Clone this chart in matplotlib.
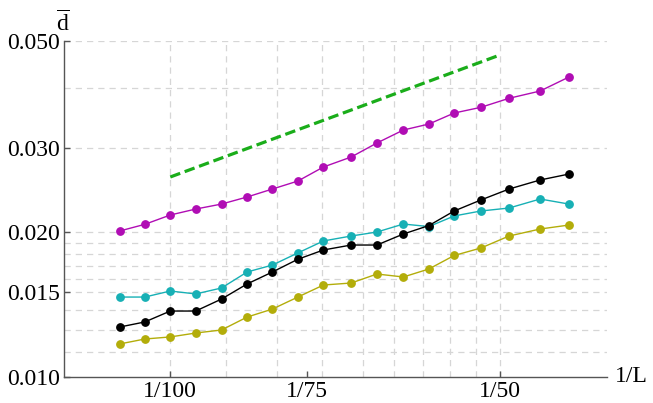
import numpy as np
import matplotlib
matplotlib.use("Agg")
import matplotlib.pyplot as plt
from matplotlib.ticker import NullLocator, FixedLocator

plt.rcParams['font.family'] = ['Liberation Serif', 'DejaVu Serif']
plt.rcParams['mathtext.fontset'] = 'custom'
plt.rcParams['mathtext.rm'] = 'Liberation Serif'

# system sizes L (x axis is 1/L)
L_values = [111.2, 105.5, 100, 94.8, 89.8, 85.1, 80.7, 76.5, 72.5,
            68.4, 64.8, 61.3, 58.1, 55.1, 52.1, 49.1, 46.0, 43.3]

d_magenta = [0.02011, 0.02076, 0.02171, 0.02234, 0.02288, 0.02367, 0.02459, 0.02555, 0.02733,
             0.02867, 0.03066, 0.03263, 0.03358, 0.03540, 0.03638, 0.03799, 0.03934, 0.04207]
d_cyan = [0.01465, 0.01465, 0.01508, 0.01487, 0.01530, 0.01652, 0.01708, 0.01810, 0.01917,
          0.01963, 0.02001, 0.02079, 0.02054, 0.02161, 0.02213, 0.02245, 0.02344, 0.02288]
d_black = [0.01269, 0.01300, 0.01370, 0.01370, 0.01451, 0.01560, 0.01652, 0.01756, 0.01836,
           0.01880, 0.01880, 0.01982, 0.02064, 0.02213, 0.02333, 0.02459, 0.02568, 0.02642]
d_olive = [0.01170, 0.01198, 0.01210, 0.01233, 0.01251, 0.01331, 0.01383, 0.01465, 0.01552,
           0.01567, 0.01636, 0.01613, 0.01676, 0.01788, 0.01853, 0.01963, 0.02030, 0.02069]

# reference power law (dashed green)
ref_x = [1 / 100, 1 / 50]
ref_y = [0.02605, 0.0468]

x_ticks = [1 / 100, 1 / 75, 1 / 50]
x_ticklabels = ["1/100", "1/75", "1/50"]
y_ticks = [0.010, 0.015, 0.020, 0.030, 0.050]
y_ticklabels = ["0.010", "0.015", "0.020", "0.030", "0.050"]

# grid positions
x_grid = [0.01, 0.01125, 0.0125, 0.01375, 0.015, 0.016, 0.017, 0.018, 0.019, 0.02]
y_grid = [0.01125, 0.0125, 0.01375, 0.015, 0.016, 0.017, 0.018, 0.019, 0.02, 0.03, 0.04, 0.05]

x = 1 / np.array(L_values)

fig = plt.figure(figsize=(6.53, 4.03), dpi=100)
ax = fig.add_axes([64 / 653, 26.3 / 403, (606.7 - 64) / 653, (376.7 - 41) / 403])

ax.set_xscale('log')
ax.set_yscale('log')
ax.set_xlim(1 / 125, 1 / 40)
ax.set_ylim(0.01, 0.05)

# griglia tratteggiata
for gx in x_grid:
    ax.axvline(gx, color='#d6d6d6', lw=0.9, ls=(0, (5, 4)), zorder=0)
for gy in y_grid:
    ax.axhline(gy, color='#d6d6d6', lw=0.9, ls=(0, (5, 4)), zorder=0)

ax.plot(ref_x, ref_y, color='#1aad1a', lw=2.3, dashes=(3.3, 1.5), zorder=3)

series = [(d_magenta, '#b00db4'), (d_olive, '#b3ad0a'), (d_cyan, '#17b0b5'), (d_black, '#000000')]
for vals, col in series:
    ax.plot(x, vals, color=col, lw=1.0, marker='o', ms=5.3, mec=col, mfc=col, zorder=4)

ax.xaxis.set_minor_locator(NullLocator())
ax.yaxis.set_minor_locator(NullLocator())
ax.xaxis.set_major_locator(FixedLocator(x_ticks))
ax.yaxis.set_major_locator(FixedLocator(y_ticks))
ax.set_xticklabels(x_ticklabels)
ax.set_yticklabels(y_ticklabels)
ax.tick_params(direction='in', length=4, width=1, colors='#555555', labelcolor='black',
               labelsize=17, pad=3)

for side in ['top', 'right']:
    ax.spines[side].set_visible(False)
for side in ['left', 'bottom']:
    ax.spines[side].set_color('#555555')
    ax.spines[side].set_linewidth(1.0)

ax.text(1.015, 0.0, "1/L", transform=ax.transAxes, ha='left', va='center', fontsize=17)
ax.annotate(r"$\overline{\mathrm{d}}$", xy=(0, 1), xycoords='axes fraction',
            xytext=(-1, 3), textcoords='offset points', ha='center', va='bottom', fontsize=17)

fig.savefig("out.png", dpi=100)
